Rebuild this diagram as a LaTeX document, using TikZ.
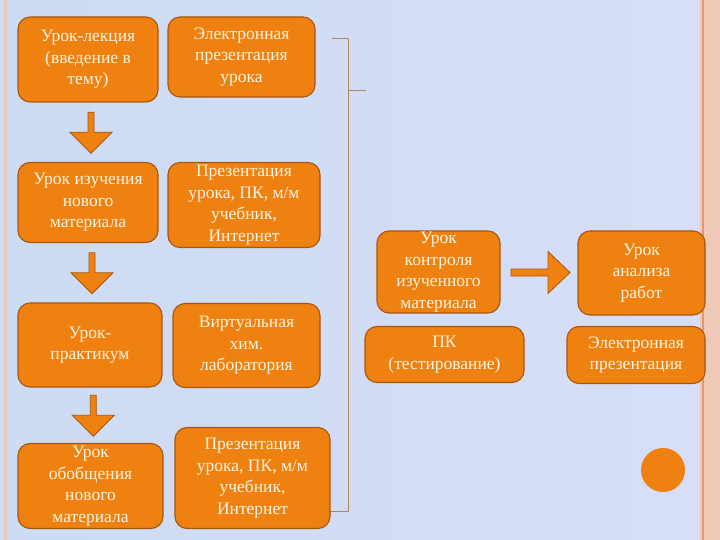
\documentclass[tikz,border=0pt]{standalone}
\usepackage{fontspec}
\setmainfont{Liberation Serif}
\usetikzlibrary{calc}
\definecolor{boxorange}{RGB}{239,129,16}
\definecolor{boxedge}{RGB}{168,86,14}
\definecolor{cream}{RGB}{255,245,228}
\definecolor{bgleft}{RGB}{204,220,243}
\definecolor{bgright}{RGB}{216,222,247}
\definecolor{framepink}{RGB}{240,200,184}
\definecolor{framered}{RGB}{226,152,112}
\definecolor{bracketbrown}{RGB}{182,132,92}

\begin{document}
\begin{tikzpicture}[x=1pt,y=-1pt,
  lesson/.style={draw=boxedge,line width=1.1pt,fill=boxorange,rounded corners=12pt,
    text=cream,align=center,inner sep=1pt,font=\fontsize{17.5}{21.5}\selectfont},
  blockarrow/.style={draw=boxedge,line width=0.8pt,fill=boxorange,line join=miter}]
  \useasboundingbox (0,0) rectangle (720,540);
  % background and frame
  \shade[left color=bgleft,right color=bgright] (0,0) rectangle (720,540);
  \draw[framepink,line width=3pt] (5.5,0) -- (5.5,540);
  \fill[framepink] (700,0) rectangle (720,540);
  \draw[framered,line width=1.5pt] (703,0) -- (703,540);
  \draw[framepink!70!white,line width=1pt] (695,0) -- (695,540);
  % bracket round the resources
  \draw[bracketbrown,line width=0.9pt] (332,38) -- (348,38) -- (348,511) -- (328,511);
  \draw[bracketbrown,line width=0.9pt] (348,90) -- (366,90);
  % lessons, left column
  \node[lesson,minimum width=140pt,minimum height=85pt] (lecture) at (88,59.5)
    {Урок-лекция\\(введение в\\ тему)};
  \node[lesson,minimum width=140pt,minimum height=80pt] (study) at (88,202.5)
    {Урок изучения\\нового\\материала};
  \node[lesson,minimum width=144pt,minimum height=84pt] (practice) at (90,345)
    {Урок-\\практикум};
  \node[lesson,minimum width=145pt,minimum height=85pt] (summary) at (90.5,486)
    {Урок\\обобщения\\нового\\материала};
  % resources
  \node[lesson,minimum width=147pt,minimum height=80pt] (slides) at (241.5,57)
    {Электронная\\презентация\\урока};
  \node[lesson,minimum width=152pt,minimum height=85pt] (media) at (244,205)
    {Презентация\\урока, ПК, м/м\\учебник,\\Интернет};
  \node[lesson,minimum width=147pt,minimum height=84pt] (lab) at (246.5,345.5)
    {Виртуальная\\хим.\\лаборатория};
  \node[lesson,minimum width=155pt,minimum height=101pt] (media2) at (252.5,478)
    {Презентация\\урока, ПК, м/м\\учебник,\\Интернет};
  % right part
  \node[lesson,minimum width=123pt,minimum height=82pt] (control) at (438.5,272)
    {Урок\\контроля\\изученного\\материала};
  \node[lesson,minimum width=127pt,minimum height=84pt] (analysis) at (641.5,273)
    {Урок\\анализа\\работ};
  \node[lesson,minimum width=159pt,minimum height=56pt] (testing) at (444.5,354.5)
    {ПК\\(тестирование)};
  \node[lesson,minimum width=138pt,minimum height=57pt] (slides2) at (636,355)
    {Электронная\\презентация};
  % block arrows
  \foreach \a/\b in {lecture/study,study/practice,practice/summary}{
    \coordinate (m) at ($(\a.south)!.5!(\b.north)+(3,0)$);
    \draw[blockarrow] ($(m)+(-3,-20)$) -- ($(m)+(3,-20)$) -- ($(m)+(3,0)$)
      -- ($(m)+(21,0)$) -- ($(m)+(0,21)$) -- ($(m)+(-21,0)$) -- ($(m)+(-3,0)$) -- cycle;
  }
  \coordinate (r) at ($(control.east)!.5!(analysis.west)$);
  \draw[blockarrow] ($(r)+(-28,-3.5)$) -- ($(r)+(9,-3.5)$) -- ($(r)+(9,-21)$)
    -- ($(r)+(31,0)$) -- ($(r)+(9,21)$) -- ($(r)+(9,3.5)$) -- ($(r)+(-28,3.5)$) -- cycle;
  \node[circle,fill=boxorange,minimum size=44pt,inner sep=0pt] (dot) at (663,470) {};
\end{tikzpicture}
\end{document}
